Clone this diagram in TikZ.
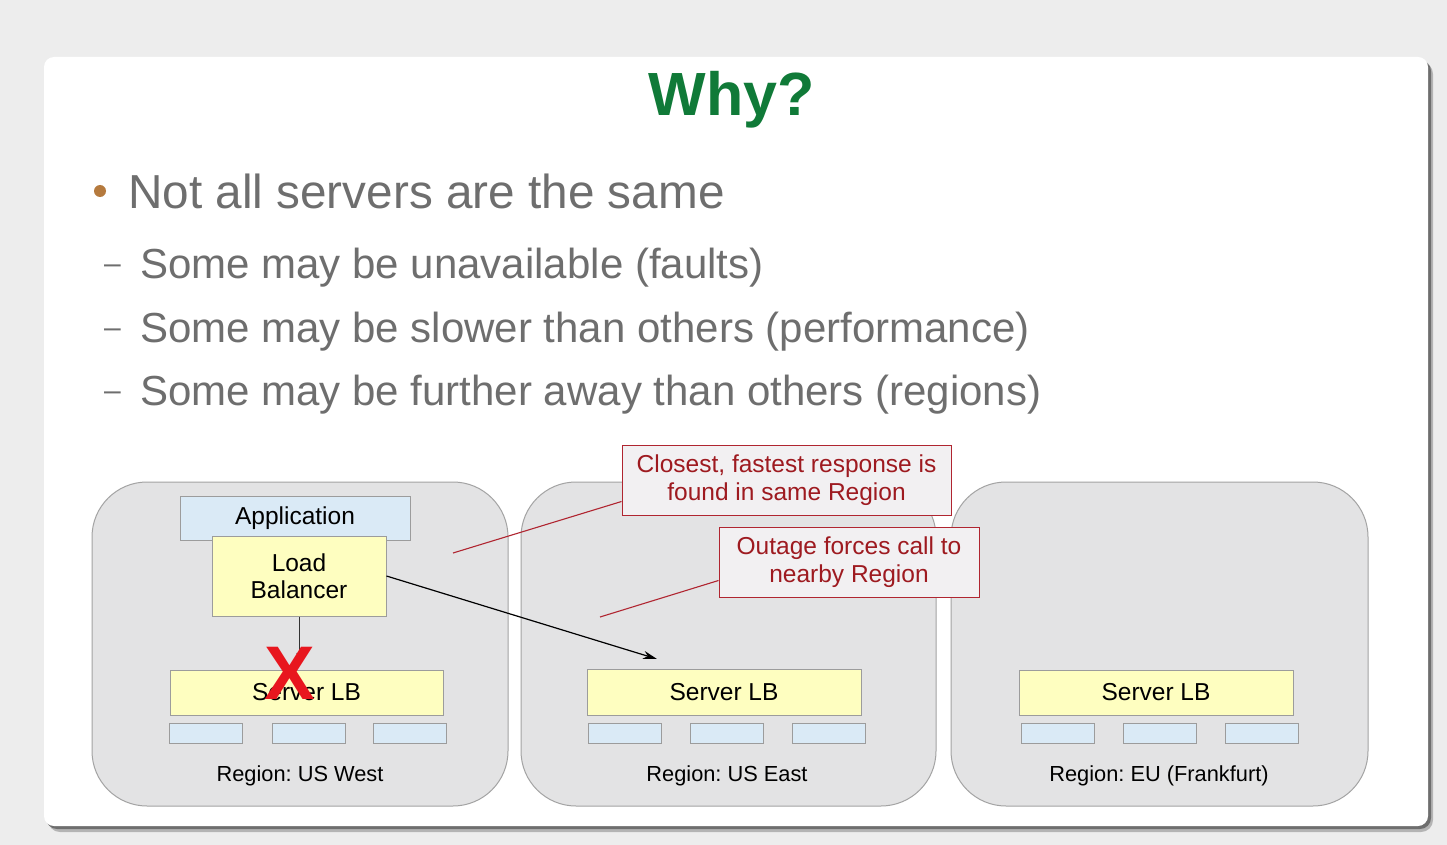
\documentclass[tikz,border=0pt]{standalone}
\usepackage{fontspec}
\setmainfont{Liberation Sans}
\usetikzlibrary{arrows.meta}
\frenchspacing
\definecolor{pagebg}{HTML}{EDEDED}
\definecolor{titlegreen}{HTML}{107A38}
\definecolor{bodygray}{HTML}{6E6E6E}
\definecolor{bulletbrown}{HTML}{B57A3E}
\definecolor{regionfill}{HTML}{E3E3E4}
\definecolor{regionline}{HTML}{A3A3A3}
\definecolor{boxline}{HTML}{9C9C9C}
\definecolor{appblue}{HTML}{DAEAF6}
\definecolor{lbyellow}{HTML}{FEFEC0}
\definecolor{calloutfill}{HTML}{F2F0F2}
\definecolor{calloutline}{HTML}{B02530}
\definecolor{callouttext}{HTML}{9E1A20}
\definecolor{crossred}{HTML}{E8161E}
\newcommand{\fsz}[1]{\fontsize{#1}{1.17\dimexpr#1pt\relax}\selectfont}
\tikzset{
  region/.style={draw=regionline, line width=1pt, fill=regionfill, rounded corners=55pt},
  appbox/.style={draw=boxline, line width=1pt, fill=appblue, inner sep=0pt,
                 font=\fsz{24.5}},
  ybox/.style={draw=boxline, line width=1pt, fill=lbyellow, inner sep=0pt,
               align=center, font=\fsz{24.5}},
  srvbox/.style={draw=boxline, line width=1pt, fill=appblue, inner sep=0pt,
                 minimum width=73pt, minimum height=20pt},
  regionlabel/.style={anchor=base, font=\fsz{21.8}},
  callout/.style={draw=calloutline, line width=1pt, fill=calloutfill, inner sep=0pt,
                  text=callouttext, align=center, font=\fsz{24.5}},
  leader/.style={draw=calloutline, line width=1.1pt},
  bodytext/.style={anchor=base west, text=bodygray, inner sep=0pt},
  dashmark/.style={anchor=base west, text=bodygray, inner sep=0pt, font=\fsz{30}},
}
\begin{document}
\begin{tikzpicture}[x=1pt,y=-1pt]
  % page and slide card
  \fill[pagebg] (0,0) rectangle (1447,845);
  \useasboundingbox (0,0) rectangle (1447,845);
  \fill[black!70, opacity=0.35, rounded corners=12pt] (48,62) rectangle (1433,832);
  \fill[black!75, opacity=0.6, rounded corners=11pt] (46,60) rectangle (1431,829);
  \fill[white, rounded corners=10pt] (44,57) rectangle (1428,826);

  % title and bullet list
  \node[anchor=base, text=titlegreen, font=\fsz{61}\bfseries] (title) at (732,116) {Why?};
  \fill[bulletbrown] (100,191) circle (6pt);
  \node[bodytext, font=\fsz{47.7}] (b0) at (128,208) {Not all servers are the same};
  \node[dashmark] (d1) at (104,273) {–};
  \node[bodytext, font=\fsz{42}] (b1) at (140,278) {Some may be unavailable (faults)};
  \node[dashmark] (d2) at (104,337) {–};
  \node[bodytext, font=\fsz{42}] (b2) at (140,342) {Some may be slower than others (performance)};
  \node[dashmark] (d3) at (104,400) {–};
  \node[bodytext, font=\fsz{42}] (b3) at (140,405) {Some may be further away than others (regions)};

  % regions
  \draw[region] (92,482) rectangle (508,806);
  \draw[region] (521,482) rectangle (936,806);
  \draw[region] (951,482) rectangle (1368,806);

  % US West
  \node[appbox, minimum width=230pt, minimum height=44pt] (app) at (295,518) {Application};
  \node[ybox, minimum width=174pt, minimum height=80pt] (lb) at (299,576) {Load\\[-2pt]Balancer};
  \node[ybox, minimum width=273pt, minimum height=45pt] (slbw) at (306.5,692.5) {Server LB};
  \node[srvbox] (w1) at (206,733) {};
  \node[srvbox] (w2) at (308.5,733) {};
  \node[srvbox] (w3) at (410,733) {};
  \node[regionlabel] (rw) at (300,781) {Region: US West};

  % US East
  \node[ybox, minimum width=274pt, minimum height=46pt] (slbe) at (724,692) {Server LB};
  \node[srvbox] (e1) at (625,733) {};
  \node[srvbox] (e2) at (727,733) {};
  \node[srvbox] (e3) at (829,733) {};
  \node[regionlabel] (re) at (727,781) {Region: US East};

  % EU (Frankfurt)
  \node[ybox, minimum width=274pt, minimum height=45pt] (slbf) at (1156,692.5) {Server LB};
  \node[srvbox] (f1) at (1057.5,733) {};
  \node[srvbox] (f2) at (1160,733) {};
  \node[srvbox] (f3) at (1262,733) {};
  \node[regionlabel] (rf) at (1159,781) {Region: EU (Frankfurt)};

  % calls from the load balancer
  \draw[black!80, line width=1pt, -{Stealth[length=7pt,width=5pt]}] (lb.south) -- (lb.south |- 0,660);
  \coordinate (eastin) at (657,659);
  \draw[black, line width=1.2pt, -{Stealth[length=14pt,width=8pt]}] (lb.east) -- (eastin);
  \node[text=crossred, font=\fsz{76}\bfseries, inner sep=0pt] (cross) at (290,673) {X};

  % callouts
  \node[callout, minimum width=329pt, minimum height=70pt] (c1) at (786.5,480)
    {Closest, fastest response is\\[-1pt]found in same Region};
  \node[callout, minimum width=260pt, minimum height=70pt] (c2) at (849,562)
    {Outage forces call to\\[-1pt]nearby Region};
  \coordinate (p1) at (453,553);
  \coordinate (p2) at (600,617);
  \draw[leader] ([yshift=14pt]c1.south west) -- (p1);
  \draw[leader] ([yshift=17pt]c2.south west) -- (p2);
\end{tikzpicture}
\end{document}
